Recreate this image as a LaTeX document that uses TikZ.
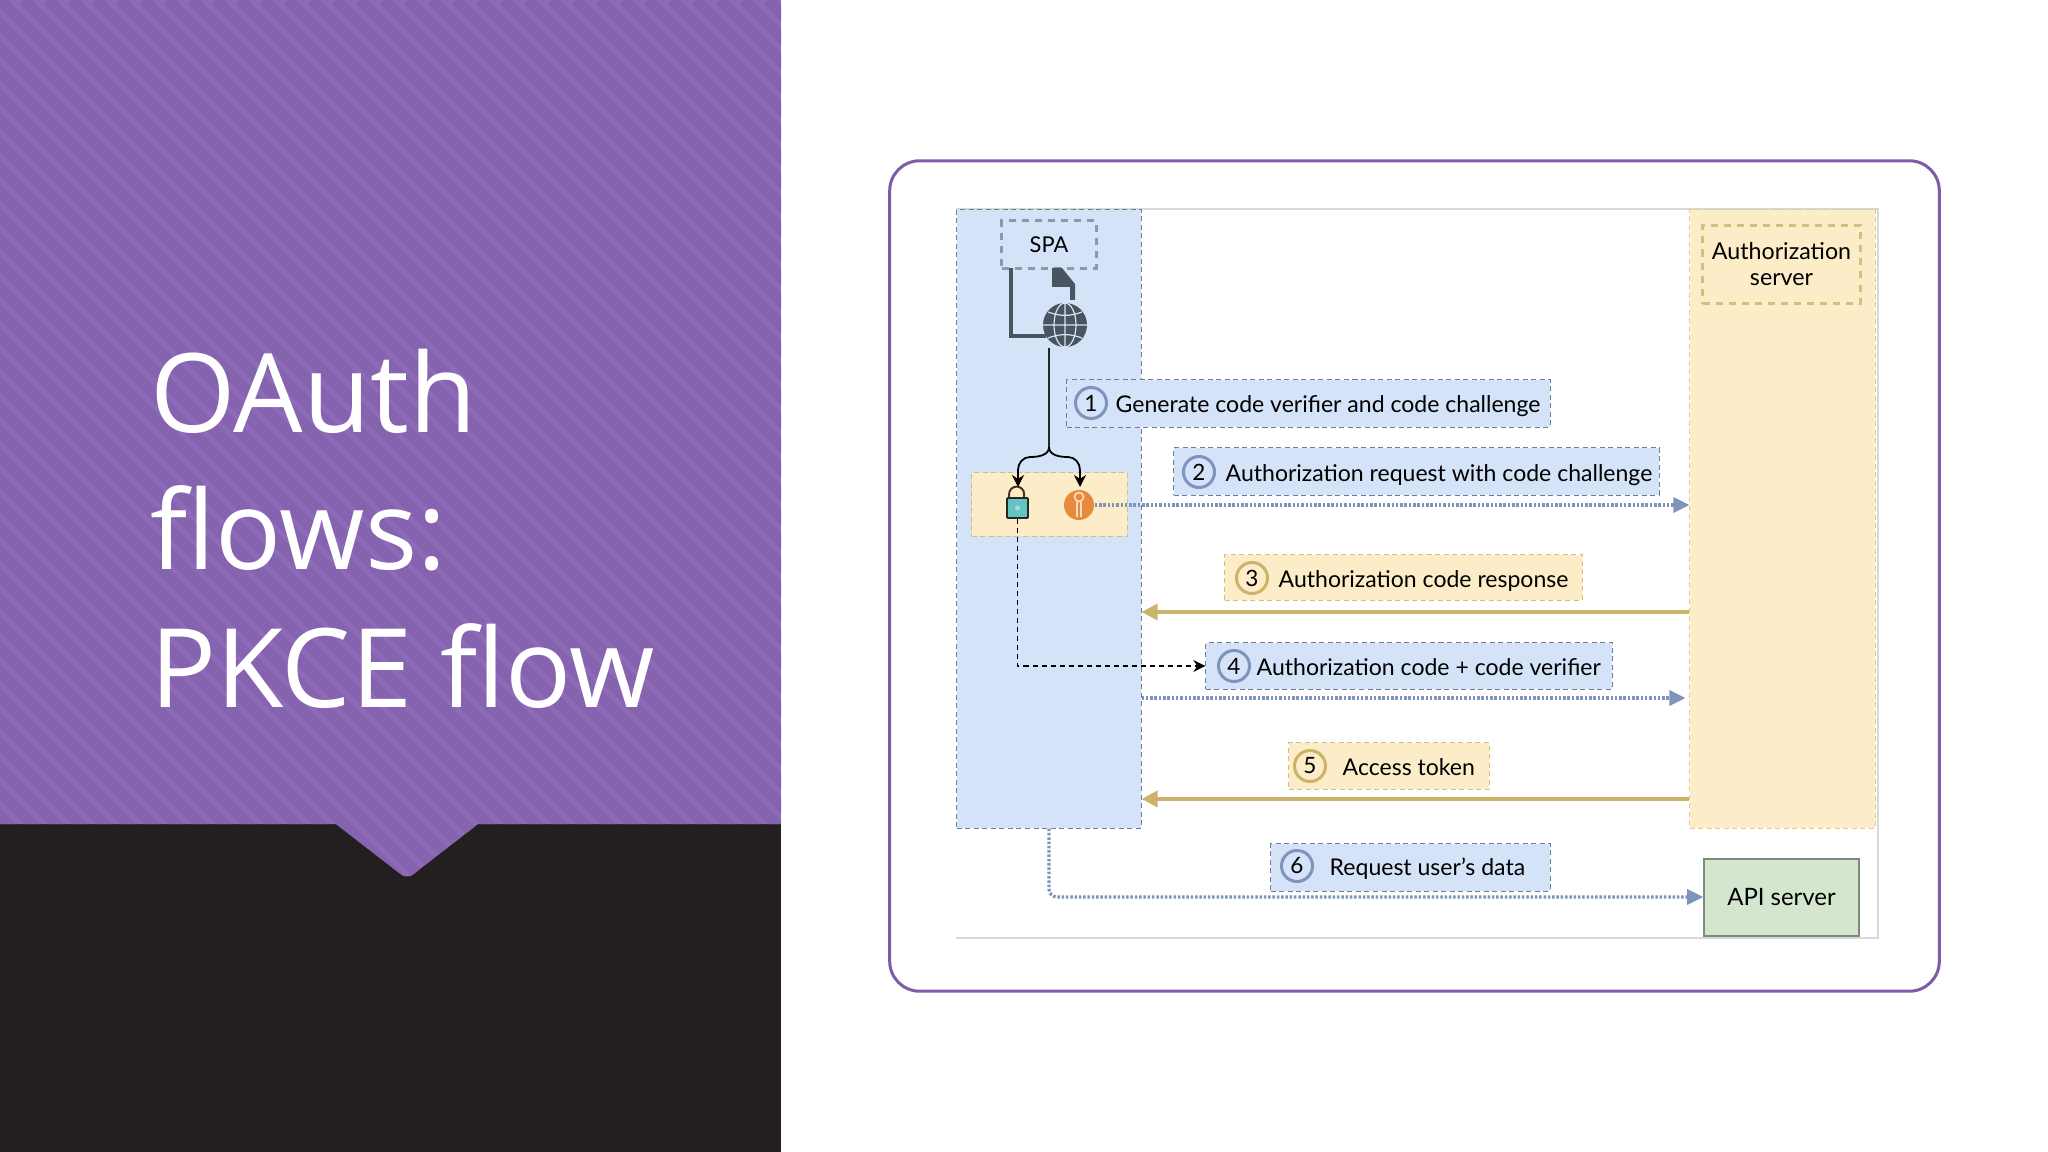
\documentclass[tikz,border=0pt]{standalone}
\usepackage{fontspec}
\setmainfont{Lato}
\newfontfamily\titlefont{Open Sans}
\usetikzlibrary{calc,positioning,arrows.meta}
\definecolor{slidepurple}{HTML}{8E6BB8}
\definecolor{stripepurple}{HTML}{8663AF}
\definecolor{slideblack}{HTML}{231F20}
\definecolor{cardline}{HTML}{7E5CA8}
\definecolor{spablue}{HTML}{D5E3F8}
\definecolor{authyellow}{HTML}{FCEDC8}
\definecolor{apigreen}{HTML}{D5E6CF}
\definecolor{bluedash}{HTML}{6F7F93}
\definecolor{yellowdash}{HTML}{D4C07E}
\definecolor{flowblue}{HTML}{7F93BC}
\definecolor{flowgold}{HTML}{CDB36A}
\definecolor{icondark}{HTML}{4A545F}
\definecolor{keyorange}{HTML}{E88A3C}
\definecolor{lockteal}{HTML}{62C4C4}
\begin{document}
\begin{tikzpicture}
        [x=.01cm, y=-.01cm,
          lane/.style={
            draw=#1,
            inner sep=0pt,
            line width=.01cm,
            dash pattern=on .05cm off .035cm},
          stepblue/.style={
            lane=bluedash,
            fill=spablue},
          stepyellow/.style={
            lane=yellowdash,
            fill=authyellow},
          numblue/.style={
            circle,
            draw=flowblue,
            fill=spablue,
            line width=.03cm,
            minimum size=.31cm,
            inner sep=0pt,
            font=\fontsize{6.4}{7}\selectfont},
          numyellow/.style={
            numblue,
            draw=flowgold,
            fill=authyellow},
          steptext/.style={
            inner sep=0pt,
            text height=1.6ex,
            text depth=.5ex,
            font=\fontsize{6.55}{7}\selectfont},
          flowdot/.style={
            draw=flowblue,
            line width=.032cm,
            dash pattern=on .025cm off .018cm,
            -{Triangle[length=.16cm,width=.15cm,fill=flowblue]}},
          flowback/.style={
            draw=flowgold,
            line width=.035cm,
            -{Triangle[length=.16cm,width=.16cm,fill=flowgold]}},
          flowblack/.style={
            draw=black,
            line width=.018cm,
            -{Stealth[length=.12cm,width=.12cm]}}]
        \useasboundingbox (0,0) rectangle (2048,1152);

        % slide background
        \fill[white] (0,0) rectangle (2048,1152);
        \fill[slideblack] (0,824) rectangle (781,1152);
        \begin{scope}
          \clip (0,0) -- (781,0) -- (781,824) -- (478,824)
            [rounded corners=.07cm] -- (407,879) [sharp corners] -- (336,824) -- (0,824) -- cycle;
          \fill[slidepurple] (0,0) rectangle (781,880);
          \foreach \i in {-38,...,33}
            \draw[stripepurple, line width=.12cm] (\i*24,0) -- (\i*24+900,900);
        \end{scope}
        \node[text=white, anchor=north west, align=left, inner sep=0pt,
          font=\fontsize{31.2}{39.2}\titlefont] (title) at (150,348)
          {OAuth\\flows:\\PKCE flow};

        % card and the white sheet
        \node[draw=cardline, line width=.03cm, rounded corners=.3cm, inner sep=0pt,
          minimum width=10.49cm, minimum height=8.3cm] (card) at (1414.5,576) {};
        \node[fill=white, inner sep=0pt, minimum width=9.2cm, minimum height=7.27cm] (sheet) at (1417,573.5) {};
        \draw[gray!30, line width=.02cm] (sheet.north west) -- (sheet.north east) -- (sheet.south east) -- (sheet.south west);

        % lanes
        \node[stepblue, minimum width=1.84cm, minimum height=6.18cm] (spalane) at (1049,519) {};
        \node[stepyellow, draw=yellowdash!80, minimum width=1.85cm, minimum height=6.18cm] (authlane) at (1782.5,519) {};

        \node[lane=bluedash!80, line width=.03cm, dash pattern=on .07cm off .06cm,
          minimum width=.94cm, minimum height=.47cm,
          font=\fontsize{6.2}{7}\selectfont] (spa) at (1049,244.5) {SPA};
        \node[lane=yellowdash, line width=.03cm, dash pattern=on .07cm off .06cm,
          minimum width=1.57cm, minimum height=.78cm, align=center,
          font=\fontsize{6.6}{7.4}\selectfont] (authbox) at (1781.5,264.5) {Authorization\\server};
        \node[draw=apigreen!60!black, fill=apigreen, inner sep=0pt, line width=.015cm,
          minimum width=1.55cm, minimum height=.77cm,
          font=\fontsize{6.8}{7}\selectfont] (api) at (1781.5,897.5) {API server};

        % web page icon
        \fill[icondark] (1052,268) -- (1062,268) -- (1075,284) -- (1075,300) -- (1070,300)
          -- (1070,287) -- (1052,287) -- cycle;
        \draw[icondark, line width=.04cm] (1011,268) -- (1011,336) -- (1046,336);
        \node[circle, fill=icondark, inner sep=0pt, minimum size=.44cm] (globe) at (1065,325) {};
        \draw[spablue, line width=.012cm] (globe.north) -- (globe.south)
          (globe.west) -- (globe.east)
          (1065,325) ellipse [x radius=11, y radius=22]
          (1048,312) to[bend right=20] (1082,312)
          (1048,338) to[bend left=20] (1082,338);

        % key pair
        \node[stepyellow, minimum width=1.55cm, minimum height=.63cm] (pair) at (1049.5,504.5) {};
        \node[draw=black!85, fill=lockteal, line width=.018cm, inner sep=0pt,
          rounded corners=.01cm, minimum width=.21cm, minimum height=.2cm] (lock) at (1017.5,508) {};
        \draw[black!60!brown, line width=.02cm] (lock.north west)++(3,0) -- ++(0,-3)
          arc[start angle=180, end angle=360, radius=7.5] -- ++(0,3);
        \fill[white!70!teal] (lock.center) circle[radius=2.5];
        \node[circle, fill=keyorange, inner sep=0pt, minimum size=.3cm] (key) at (1079,505) {};
        \draw[orange!25, line width=.016cm] (1079,497) circle[radius=4.5]
          (1077,502) -- (1077,517) (1081,502) -- (1081,517);

        \coordinate (branch) at (1049,447);
        \draw[black!85, line width=.018cm] (globe.south -| branch) -- (branch);
        \draw[flowblack] (branch) to[out=270,in=0] (1030,457) to[out=180,in=90] (1018,470) -- (1018,487);
        \draw[flowblack] (branch) to[out=270,in=180] (1068,457) to[out=0,in=90] (1080,470) -- (1080,487);

        % steps
        \node[stepblue, minimum width=4.83cm, minimum height=.47cm] (box1) at (1308.5,403.5) {};
        \node[numblue] (num1) at (1091,403) {1};
        \node[steptext, right=.07cm of num1] (text1) {Generate code verifier and code challenge};

        \node[stepblue, minimum width=4.85cm, minimum height=.47cm] (box2) at (1416.5,471.5) {};
        \node[numblue] (num2) at (1199,472) {2};
        \node[steptext, right=.09cm of num2] (text2) {Authorization request with code challenge};

        \node[stepyellow, minimum width=3.57cm, minimum height=.45cm] (box3) at (1403.5,577.5) {};
        \node[numyellow] (num3) at (1252,578) {3};
        \node[steptext, right=.09cm of num3] (text3) {Authorization code response};

        \node[stepblue, minimum width=4.06cm, minimum height=.46cm] (box4) at (1409,666) {};
        \node[numblue] (num4) at (1234,666) {4};
        \node[steptext, right=.05cm of num4] (text4) {Authorization code + code verifier};

        \node[stepyellow, minimum width=2cm, minimum height=.46cm] (box5) at (1389,766) {};
        \node[numyellow] (num5) at (1310,766) {5};
        \node[steptext, right=.15cm of num5] (text5) {Access token};

        \node[stepblue, minimum width=2.79cm, minimum height=.47cm] (box6) at (1410.5,867.5) {};
        \node[numblue] (num6) at (1297,866) {6};
        \node[steptext, right=.15cm of num6] (text6) {Request user's data};

        % flows
        \coordinate (flow3) at (0,612);
        \coordinate (flow4) at (0,698);
        \coordinate (flow5) at (0,799);
        \coordinate (flow6) at (0,897);
        \draw[flowdot] (key.east) -- (authlane.west |- key.east);
        \draw[flowback] (authlane.west |- flow3) -- (spalane.east |- flow3);
        \draw[flowdot] (spalane.east |- flow4) -- ($(authlane.west |- flow4)+(-4,0)$);
        \draw[flowback] (authlane.west |- flow5) -- (spalane.east |- flow5);
        \draw[flowdot, rounded corners=.08cm] (spalane.south) -- (spalane.south |- flow6) -- (api.west |- flow6);
        \draw[flowblack, dash pattern=on .05cm off .04cm] (lock.south) |- (box4.west);
      \end{tikzpicture}
\end{document}
